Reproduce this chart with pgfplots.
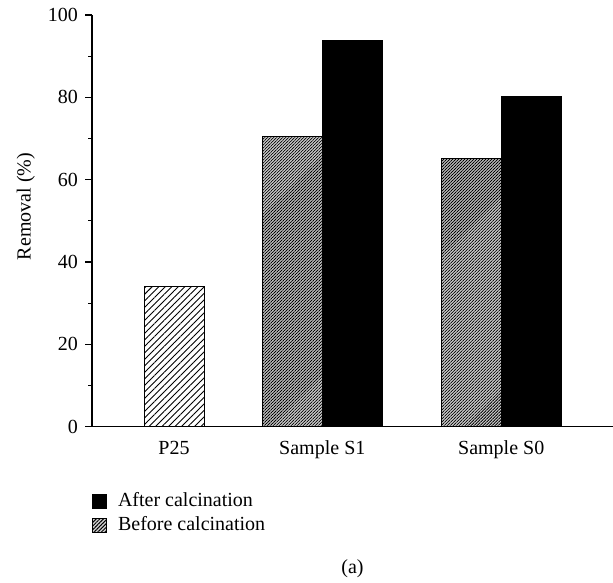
\documentclass[border=0pt]{standalone}
\usepackage{fontspec}
\setmainfont{Liberation Serif}
\usepackage{pgfplots}
\pgfplotsset{compat=1.18}
\usetikzlibrary{patterns.meta}

\begin{document}
\fontsize{10}{12}\selectfont
\begin{tikzpicture}
\useasboundingbox (-46pt,-77.65pt) rectangle (260.5pt,213.35pt);
\begin{axis}[
  at={(0pt,0pt)}, anchor=south west,
  scale only axis, width=260.5pt, height=205.85pt,
  xmin=92, xmax=613, ymin=0, ymax=100,
  axis x line=bottom, axis y line=left,
  axis line style={-, line width=0.6pt},
  ybar, bar width=60, bar shift=0pt,
  xtick={174,322.3,501.2}, xticklabels={P25,Sample S1,Sample S0},
  x tick style={draw=none},
  ytick={0,20,...,100}, minor ytick={10,30,...,90},
  tick align=outside,
  y tick style={line width=0.6pt, black},
  major tick length=3.5pt, minor tick length=2pt,
  /pgf/number format/assume math mode=true,
  ticklabel style={font=\fontsize{10}{12}\selectfont},
  ylabel={Removal (\%)},
  ylabel style={at={(axis description cs:-0.127,0.535)}, anchor=center, font=\fontsize{10}{12}\selectfont},
  legend style={draw=none, fill=none, at={(axis description cs:-0.012,-0.14)}, anchor=north west, font=\fontsize{10}{12}\selectfont, row sep=-0.5pt},
  legend cell align=left,
  clip=false,
]
\addlegendimage{legend image code/.code={\draw[fill=black, draw=black, line width=0.5pt] (0pt,-3.5pt) rectangle (7pt,3.5pt); \path (10.5pt,0pt);}}
\addlegendimage{legend image code/.code={\draw[fill=gray!35, draw=black, line width=0.5pt, postaction={pattern={Lines[angle=45,distance=1.3pt,line width=0.5pt]}}] (0pt,-3.5pt) rectangle (7pt,3.5pt); \path (10.5pt,0pt);}}
\legend{After calcination, Before calcination}

\addplot[forget plot, draw=black, line width=0.5pt, fill=white,
  postaction={pattern={Lines[angle=45,distance=2.3pt,line width=0.45pt]}}]
  coordinates {(174,34.0)};
\addplot[forget plot, draw=black, line width=0.5pt, fill=gray!35,
  postaction={pattern={Lines[angle=45,distance=1.06pt,line width=0.4pt]}}]
  coordinates {(292.3,70.6) (471.2,65.2)};
\addplot[forget plot, draw=black, line width=0.5pt, fill=black]
  coordinates {(352.3,93.8) (531.2,80.2)};

\node[font=\fontsize{10}{12}\selectfont] at (axis description cs:0.5,-0.345) {(a)};
\end{axis}
\end{tikzpicture}
\end{document}
